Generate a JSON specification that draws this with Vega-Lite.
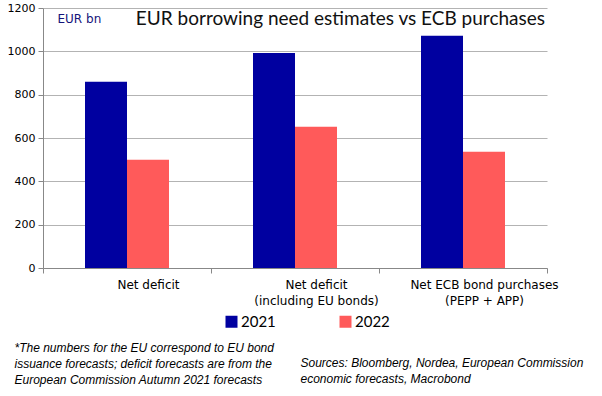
{
  "$schema": "https://vega.github.io/schema/vega-lite/v6.json",
  "width": 504,
  "height": 260,
  "autosize": {"type": "none"},
  "padding": {"left": 43, "top": 8, "right": 55, "bottom": 128},
  "background": "white",
  "config": {"view": {"stroke": null}, "font": "DejaVu Sans"},
  "title": {
    "text": "EUR borrowing need estimates vs ECB purchases",
    "anchor": "end", "frame": "group", "orient": "top",
    "font": "Lato", "fontSize": 19, "fontWeight": "normal", "color": "#111111",
    "baseline": "alphabetic", "offset": 0, "dy": 42, "dx": -2
  },
  "data": {"values": [
    {"category": "Net deficit", "year": "2021", "value": 860},
    {"category": "Net deficit", "year": "2022", "value": 500},
    {"category": "Net deficit (including EU bonds)", "year": "2021", "value": 992},
    {"category": "Net deficit (including EU bonds)", "year": "2022", "value": 652},
    {"category": "Net ECB bond purchases (PEPP + APP)", "year": "2021", "value": 1072},
    {"category": "Net ECB bond purchases (PEPP + APP)", "year": "2022", "value": 537}
  ]},
  "layer": [
    {
      "mark": {"type": "bar"},
      "encoding": {
        "x": {
          "field": "category", "type": "nominal", "sort": null,
          "scale": {"paddingInner": 0, "paddingOuter": 0},
          "axis": {
            "title": ["*The numbers for the EU correspond to EU bond", "issuance forecasts;  deficit forecasts are from the", "European Commission Autumn 2021 forecasts"],
            "titleX": -29, "titleY": 74, "titleAlign": "left", "titleBaseline": "top", "titleAngle": 0,
            "titleFont": "Liberation Sans", "titleFontStyle": "italic", "titleFontWeight": "normal",
            "titleFontSize": 12, "titleLineHeight": 16, "titleColor": "#000000",
            "labelAngle": 0, "labelFontSize": 12, "labelColor": "#000000", "labelOffset": 21,
            "labelPadding": 6, "labelLineHeight": 16,
            "labelExpr": "isValid(datum.value) ? split(replace(datum.value, ' (', '|('), '|') : ''",
            "domainColor": "#888888", "tickColor": "#888888", "tickSize": 5, "tickBand": "extent"
          }
        },
        "xOffset": {"field": "year", "type": "nominal", "scale": {"paddingInner": 0, "paddingOuter": 1}},
        "y": {
          "field": "value", "type": "quantitative",
          "scale": {"domain": [0, 1200], "nice": false},
          "axis": {
            "values": [0, 200, 400, 600, 800, 1000, 1200], "format": "d",
            "title": "EUR bn", "titleX": 14, "titleY": 10, "titleAngle": 0, "titleAlign": "left",
            "titleBaseline": "middle", "titleFontSize": 12, "titleFontWeight": "normal", "titleColor": "#14147a",
            "labelFontSize": 11, "labelColor": "#000000", "labelPadding": 3,
            "gridColor": "#b3b3b3", "domainColor": "#888888", "tickColor": "#888888", "tickSize": 5
          }
        },
        "color": {
          "field": "year", "type": "nominal",
          "scale": {"domain": ["2021", "2022"], "range": ["#0000a0", "#ff5a5a"]},
          "legend": {
            "orient": "none", "legendX": 181, "legendY": 306, "direction": "horizontal", "title": null,
            "symbolType": "square", "symbolSize": 144, "symbolStrokeWidth": 0, "symbolOpacity": 1,
            "labelFont": "Lato", "labelFontSize": 15, "labelColor": "#000000", "labelOffset": 2,
            "columnPadding": 62
          }
        }
      }
    },
    {
      "mark": {"type": "rule", "opacity": 0},
      "encoding": {
        "y": {
          "field": "value", "type": "quantitative",
          "axis": {
            "orient": "right", "labels": false, "ticks": false, "domain": false, "grid": false,
            "title": ["Sources: Bloomberg, Nordea, European Commission", "economic forecasts, Macrobond"],
            "titleX": -247, "titleY": 349, "titleAngle": 0, "titleAlign": "left", "titleBaseline": "top",
            "titleFont": "Liberation Sans", "titleFontStyle": "italic", "titleFontWeight": "normal",
            "titleFontSize": 12, "titleLineHeight": 16, "titleColor": "#000000"
          }
        }
      }
    }
  ],
  "resolve": {"axis": {"y": "independent"}}
}
